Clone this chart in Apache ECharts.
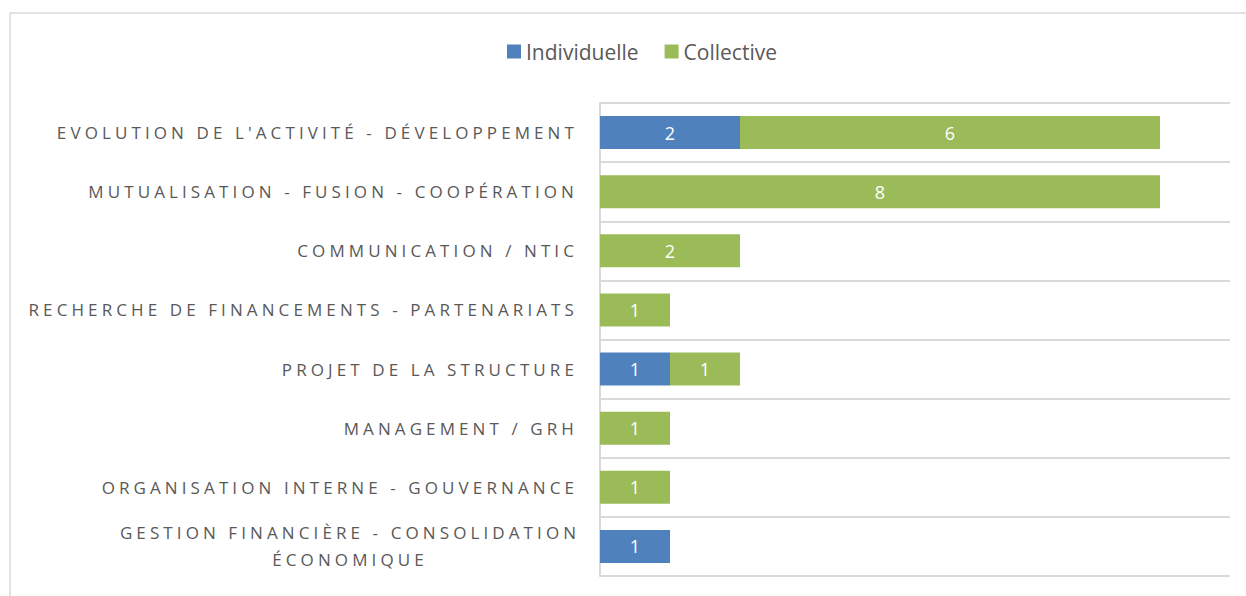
<!DOCTYPE html>
<html>
<head>
<meta charset="utf-8">
<script src="https://cdn.jsdelivr.net/npm/echarts@6/dist/echarts.min.js"></script>
<style>
    html, body { margin: 0; padding: 0; background: #fff; }
    #main { width: 1246px; height: 596px; }
</style>
</head>
<body>
<div id="main"></div>
<script>
// catégories, de haut en bas
var categories = [
    "EVOLUTION DE L'ACTIVITÉ - DÉVELOPPEMENT",
    'MUTUALISATION - FUSION - COOPÉRATION',
    'COMMUNICATION / NTIC',
    'RECHERCHE DE FINANCEMENTS - PARTENARIATS',
    'PROJET DE LA STRUCTURE',
    'MANAGEMENT / GRH',
    'ORGANISATION INTERNE - GOUVERNANCE',
    'GESTION FINANCIÈRE - CONSOLIDATION\nÉCONOMIQUE'
];
var individuelle = [2, null, null, null, 1, null, null, 1];
var collective = [6, 8, 2, 1, 1, 1, 1, null];

var myChart = echarts.init(document.getElementById('main'), null, { renderer: 'svg' });

var labelStyle = {
    show: true,
    position: 'inside',
    color: '#fff',
    fontSize: 18,
    fontFamily: 'Open Sans'
};

// le libellé sur deux lignes est centré (comme dans Excel)
var yData = categories.map(function (c) {
    if (c.indexOf('\n') >= 0) {
        return { value: c, textStyle: { align: 'center', padding: [0, 456, 0, 0] } };
    }
    return c;
});

var option = {
    animation: false,
    graphic: [
        {
            type: 'rect',
            shape: { x: 10, y: 13, width: 1250, height: 600 },
            style: { fill: 'none', stroke: '#d9d9d9', lineWidth: 1.5 },
            silent: true
        }
    ],
    legend: {
        top: 36,
        left: 502,
        itemWidth: 14,
        itemHeight: 14,
        itemGap: 26,
        icon: 'rect',
        textStyle: {
            fontSize: 21,
            color: '#595959',
            fontFamily: 'Open Sans'
        },
        data: ['Individuelle', 'Collective']
    },
    grid: {
        left: 600,
        right: 16,
        top: 103,
        bottom: 20
    },
    xAxis: {
        type: 'value',
        min: 0,
        max: 9,
        axisLabel: { show: false },
        axisLine: { show: false },
        axisTick: { show: false },
        splitLine: { show: false }
    },
    yAxis: {
        type: 'category',
        inverse: true,
        data: yData,
        axisLine: { show: true, lineStyle: { color: '#d9d9d9', width: 2 } },
        axisTick: { show: false },
        splitLine: { show: true, lineStyle: { color: '#d9d9d9', width: 2 } },
        axisLabel: {
            margin: 22,
            fontSize: 17,
            color: '#595959',
            fontFamily: 'Open Sans',
            lineHeight: 27
        }
    },
    series: [
        {
            name: 'Individuelle',
            type: 'bar',
            stack: 'total',
            barWidth: '56%',
            itemStyle: { color: '#4f81bd' },
            label: labelStyle,
            data: individuelle
        },
        {
            name: 'Collective',
            type: 'bar',
            stack: 'total',
            barWidth: '56%',
            itemStyle: { color: '#9bbb59' },
            label: labelStyle,
            data: collective
        }
    ]
};
myChart.setOption(option);

// espacement des lettres des libellés (rendu SVG)
var labelLines = [];
categories.forEach(function (c) {
    c.split('\n').forEach(function (l) { labelLines.push(l); });
});
function spaceLabels() {
    var texts = document.querySelectorAll('#main text');
    texts.forEach(function (t) {
        if (labelLines.indexOf(t.textContent) >= 0) {
            t.setAttribute('letter-spacing', '4.1px');
        }
    });
}
myChart.on('finished', spaceLabels);
spaceLabels();
</script>
</body>
</html>
